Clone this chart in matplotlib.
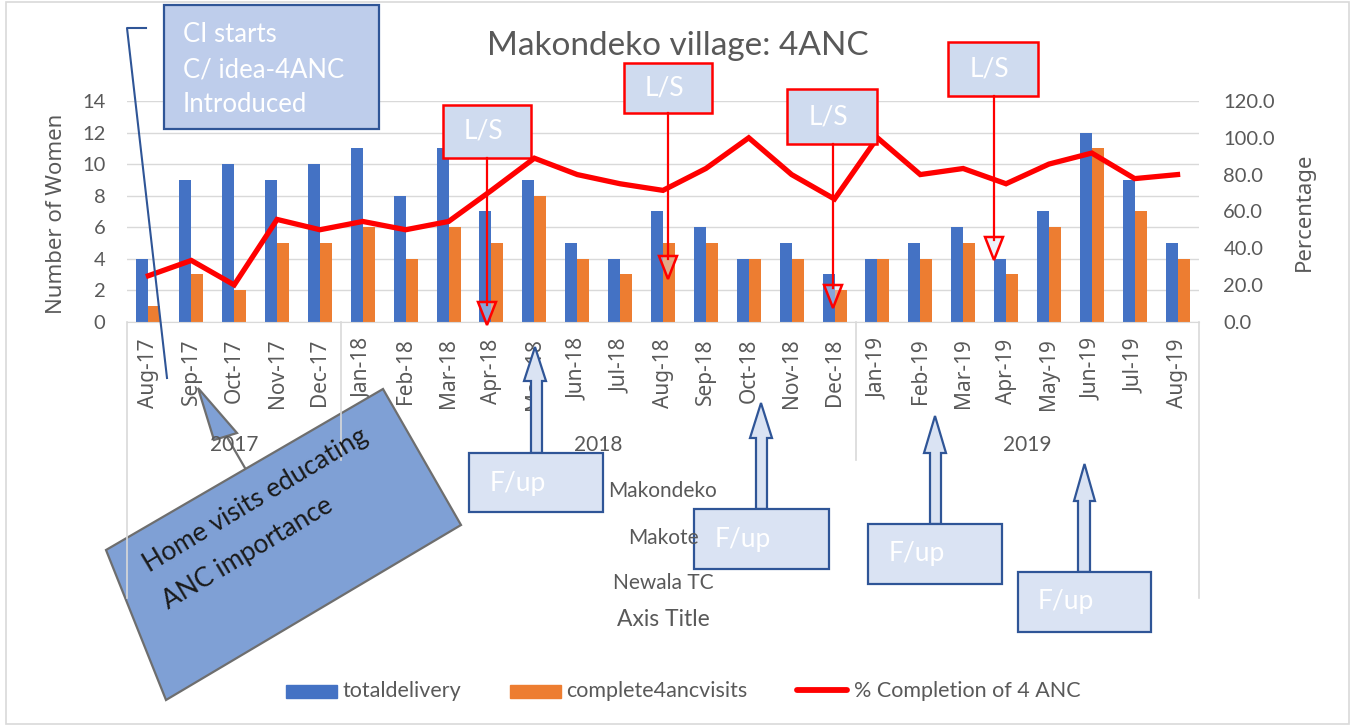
import numpy as np
import matplotlib
matplotlib.use("Agg")
import matplotlib.pyplot as plt
import matplotlib.transforms as mtransforms
from matplotlib.patches import Rectangle, Polygon
from matplotlib.lines import Line2D

# data
months = ["Aug-17", "Sep-17", "Oct-17", "Nov-17", "Dec-17",
          "Jan-18", "Feb-18", "Mar-18", "Apr-18", "May-18", "Jun-18", "Jul-18",
          "Aug-18", "Sep-18", "Oct-18", "Nov-18", "Dec-18",
          "Jan-19", "Feb-19", "Mar-19", "Apr-19", "May-19", "Jun-19", "Jul-19", "Aug-19"]
years = ["2017", "2018", "2019"]
year_spans = [(0, 4), (5, 16), (17, 24)]
total_delivery = [4, 9, 10, 9, 10, 11, 8, 11, 7, 9, 5, 4, 7, 6, 4, 5, 3, 4, 5, 6, 4, 7, 12, 9, 5]
complete_4anc = [1, 3, 2, 5, 5, 6, 4, 6, 5, 8, 4, 3, 5, 5, 4, 4, 2, 4, 4, 5, 3, 6, 11, 7, 4]
pct_complete = [25.0, 33.3, 20.0, 55.6, 50.0, 54.5, 50.0, 54.5, 71.4, 88.9, 80.0, 75.0,
                71.4, 83.3, 100.0, 80.0, 66.7, 100.0, 80.0, 83.3, 75.0, 85.7, 91.7, 77.8, 80.0]
villages = ["Makondeko", "Makote", "Newala TC"]

BLUE = "#4472C4"
ORANGE = "#ED7D31"
RED = "#FF0000"
GREY_TXT = "#595959"
GRID = "#D9D9D9"
NAVY = "#2F5597"
LIGHT = "#DAE3F3"
SANS = "Noto Sans"
CAL = "Lato"

W, H = 1354, 727
fig = plt.figure(figsize=(W / 100, H / 100), dpi=100)
# pixel coords measured from the top-left corner of the image
px = mtransforms.Affine2D().scale(1 / W, -1 / H).translate(0, 1) + fig.transFigure

x0, x1, ytop, ybot = 127, 1199, 101, 321.7
ax = fig.add_axes([x0 / W, (H - ybot) / H, (x1 - x0) / W, (ybot - ytop) / H])
x = np.arange(len(months))
ax.bar(x - 0.14, total_delivery, 0.28, color=BLUE, zorder=2)
ax.bar(x + 0.14, complete_4anc, 0.28, color=ORANGE, zorder=2)
ax.set_xlim(-0.5, len(months) - 0.5)
ax.set_ylim(0, 14)
ax.set_yticks(range(0, 15, 2))
ax.grid(axis="y", color=GRID, lw=1)
ax.set_axisbelow(True)
for s in ["top", "left", "right"]:
    ax.spines[s].set_visible(False)
ax.spines["bottom"].set_color(GRID)
ax.set_xticks(x)
ax.set_xticklabels(months, rotation=90, fontsize=15, family=SANS, color=GREY_TXT)
ax.tick_params(axis="x", length=0, pad=12)
ax.tick_params(axis="y", length=0, pad=15.5, labelsize=14.5, labelcolor=GREY_TXT)
for t in ax.get_yticklabels():
    t.set_family(CAL)

ax2 = ax.twinx()
ax2.plot(x, pct_complete, color=RED, lw=3.8, solid_joinstyle="miter")
ax2.set_ylim(0, 120)
ax2.set_yticks(range(0, 121, 20))
ax2.set_yticklabels([f"{v:.1f}" for v in range(0, 121, 20)], family=CAL)
ax2.tick_params(axis="y", length=0, pad=17.5, labelsize=14.5, labelcolor=GREY_TXT)
for s in ax2.spines.values():
    s.set_visible(False)

# axis titles and chart title
fig.text(57, 214, "Number of Women", transform=px, rotation=90, ha="center", va="center",
         fontsize=16, family=SANS, color=GREY_TXT)
fig.text(1304, 212, "Percentage", transform=px, rotation=90, ha="center", va="center",
         fontsize=16, family=SANS, color=GREY_TXT)
fig.text(678, 46, "Makondeko village: 4ANC", transform=px, ha="center", va="center",
         fontsize=24, family=CAL, color=GREY_TXT)

# multi-level category axis
bt = mtransforms.blended_transform_factory(ax.transData, px)
for (a, b), yr in zip(year_spans, years):
    fig.text((a + b) / 2, 445, yr, transform=bt, ha="center", va="center",
             fontsize=15, family=CAL, color=GREY_TXT)
for xv, yend in [(-0.5, 598), (4.5, 460), (16.5, 460), (24.5, 598)]:
    fig.add_artist(Line2D([xv, xv], [ybot, yend], transform=bt, color=GRID, lw=1.2))
for name, yy in zip(villages, [491, 538, 583]):
    fig.text(663, yy, name, transform=px, ha="center", va="center",
             fontsize=15, family=CAL, color=GREY_TXT)
fig.text(663, 620, "Axis Title", transform=px, ha="center", va="center",
         fontsize=16.5, family=CAL, color=GREY_TXT)

# legend
fig.add_artist(Rectangle((285.5, 685), 51.5, 13, transform=px, color=BLUE))
fig.text(342.5, 691, "totaldelivery", transform=px, va="center", fontsize=15.5, family=CAL, color=GREY_TXT)
fig.add_artist(Rectangle((509.5, 685), 51.5, 13, transform=px, color=ORANGE))
fig.text(566.5, 691, "complete4ancvisits", transform=px, va="center", fontsize=15.5, family=CAL, color=GREY_TXT)
fig.add_artist(Line2D([797, 847], [690, 690], transform=px, color=RED, lw=4.2, solid_capstyle="round"))
fig.text(854, 691, "% Completion of 4 ANC", transform=px, va="center", fontsize=15.5, family=CAL, color=GREY_TXT)

# "CI starts" box with callout line
fig.add_artist(Rectangle((164, 5), 215, 124, transform=px, facecolor="#BECDEB", edgecolor=NAVY, lw=1.6))
for txt, yy in zip(["CI starts", "C/ idea-4ANC", "Introduced"], [34, 70, 105]):
    fig.text(183, yy, txt, transform=px, va="center", fontsize=18.5, family=CAL, color="white")
fig.add_artist(Line2D([146, 127, 167], [28, 28, 378], transform=px, color=NAVY, lw=1.5))

# L/S boxes with red arrows
ls_boxes = [(443, 105, 531, 158, 487, 325), (624, 63, 712, 113, 668, 279),
            (787, 89, 877, 144, 833, 308), (948, 42, 1038, 96, 994, 260)]
for bx0, by0, bx1, by1, ax_x, tip in ls_boxes:
    fig.add_artist(Line2D([ax_x, ax_x], [by1, tip - 20], transform=px, color=RED, lw=1.6))
    fig.add_artist(Polygon([(ax_x - 9, tip - 23), (ax_x + 9, tip - 23), (ax_x, tip)], closed=True,
                           transform=px, facecolor=(0.85, 0.89, 0.95, 0.45), edgecolor=RED, lw=1.8))
    fig.add_artist(Rectangle((bx0, by0), bx1 - bx0, by1 - by0, transform=px,
                             facecolor="#CFDBEF", edgecolor=RED, lw=1.8))
    fig.text((bx0 + bx1) / 2 - 4, (by0 + by1) / 2, "L/S", transform=px, ha="center", va="center",
             fontsize=19, family=CAL, color="white")

# F/up boxes with block arrows
fup = [(469, 453, 603, 512, 531, 542, 524, 546, 381, 347, 490, 483),
       (694, 509, 829, 569, 756, 767, 750, 772, 438, 403, 715, 539),
       (868, 524, 1002, 584, 930, 941, 924, 946, 453, 416, 889, 553),
       (1018, 572, 1151, 632, 1078, 1090, 1074, 1095, 501, 464, 1038, 602)]
for bx0, by0, bx1, by1, s0, s1, h0, h1, hb, tip, tx, ty in fup:
    arrow = [(s0, by0), (s0, hb), (h0, hb), ((h0 + h1) / 2, tip), (h1, hb), (s1, hb), (s1, by0)]
    fig.add_artist(Polygon(arrow, closed=True, transform=px, facecolor=LIGHT, edgecolor=NAVY, lw=1.6))
    fig.add_artist(Rectangle((bx0, by0), bx1 - bx0, by1 - by0, transform=px,
                             facecolor=LIGHT, edgecolor=NAVY, lw=1.6))
    fig.text(tx, ty, "F/up", transform=px, va="center", fontsize=19, family=CAL, color="white")

# rotated "Home visits" callout
fig.add_artist(Polygon([(198, 388), (237, 433), (214, 440)], closed=True, transform=px,
                       facecolor="#7FA0D5", edgecolor="#6E6E6E", lw=1.6))
fig.add_artist(Line2D([227, 245], [437, 468], transform=px, color="#6E6E6E", lw=1.6))
fig.add_artist(Polygon([(383, 389), (461, 525), (166, 700), (106, 550)], closed=True, transform=px,
                       facecolor="#7FA0D5", edgecolor="#6E6E6E", lw=1.6))
fig.text(256, 500, "Home visits educating", transform=px, rotation=31, rotation_mode="anchor",
         ha="center", va="center", fontsize=19, family=CAL, color="#1A1A1A")
fig.text(248, 553, "ANC importance", transform=px, rotation=31, rotation_mode="anchor",
         ha="center", va="center", fontsize=19, family=CAL, color="#1A1A1A")

# chart frame
fig.add_artist(Rectangle((6, 2), 1343, 722, transform=px, fill=False, edgecolor=GRID, lw=1.2))

fig.savefig("out.png", dpi=100)
